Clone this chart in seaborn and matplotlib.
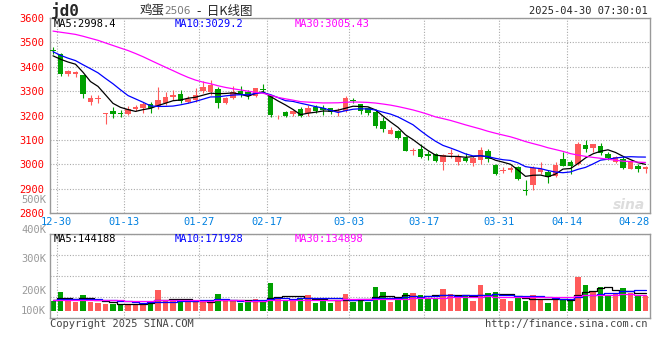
import numpy as np
import pandas as pd
import matplotlib
matplotlib.use('Agg')
import matplotlib.pyplot as plt
import seaborn as sns

# egg futures jd2506, daily bars 2024-12-27 .. 2025-04-29 (80 sessions)
opens = [3468, 3452, 3370, 3370, 3367, 3256, 3268, 3205, 3218, 3212,
         3206, 3226, 3230, 3249, 3236, 3250, 3275, 3288, 3256, 3263,
         3302, 3298, 3307, 3250, 3271, 3300, 3296, 3281, 3309, 3278,
         3196, 3215, 3206, 3225, 3209, 3236, 3232, 3230, 3214, 3220,
         3265, 3246, 3230, 3216, 3178, 3125, 3135, 3113, 3053, 3063,
         3043, 3043, 3010, 3042, 3010, 3025, 3007, 3018, 3053, 2995,
         2972, 2975, 2988, 2896, 2916, 2970, 2967, 2951, 3021, 3011,
         3001, 3078, 3066, 3073, 3042, 3008, 3021, 2981, 2992, 2981]
closes = [3464, 3370, 3383, 3380, 3290, 3273, 3271, 3210, 3205, 3208,
          3228, 3233, 3246, 3232, 3265, 3276, 3284, 3261, 3268, 3286,
          3318, 3325, 3250, 3273, 3298, 3290, 3282, 3311, 3305, 3202,
          3199, 3199, 3219, 3198, 3232, 3219, 3224, 3216, 3218, 3272,
          3260, 3219, 3209, 3155, 3145, 3140, 3108, 3056, 3056, 3030,
          3032, 3013, 3038, 3048, 3029, 3015, 3026, 3059, 3021, 2961,
          2976, 2983, 2940, 2892, 2983, 2980, 2947, 2997, 2994, 2994,
          3082, 3062, 3082, 3046, 3024, 3028, 2983, 3015, 2982, 2990]
highs = [3482, 3455, 3388, 3382, 3368, 3285, 3285, 3212, 3236, 3224,
         3240, 3243, 3257, 3254, 3317, 3298, 3303, 3306, 3280, 3313,
         3340, 3345, 3316, 3276, 3323, 3320, 3304, 3314, 3331, 3280,
         3203, 3218, 3223, 3236, 3242, 3242, 3244, 3232, 3232, 3282,
         3271, 3248, 3236, 3225, 3195, 3154, 3140, 3116, 3068, 3083,
         3056, 3046, 3042, 3063, 3043, 3045, 3032, 3070, 3063, 3002,
         2988, 2992, 2992, 2936, 2994, 3011, 2978, 3008, 3049, 3019,
         3092, 3100, 3084, 3086, 3049, 3032, 3032, 3019, 3001, 2994]
lows = [3452, 3363, 3362, 3358, 3272, 3242, 3250, 3167, 3188, 3193,
        3204, 3218, 3212, 3212, 3225, 3243, 3265, 3252, 3252, 3257,
        3292, 3285, 3230, 3246, 3266, 3277, 3269, 3277, 3293, 3192,
        3185, 3195, 3198, 3192, 3196, 3212, 3201, 3205, 3200, 3215,
        3252, 3205, 3202, 3150, 3131, 3123, 3104, 3053, 3036, 3026,
        3018, 3011, 2977, 3026, 2995, 3011, 2991, 2999, 3011, 2954,
        2964, 2967, 2937, 2872, 2893, 2960, 2924, 2947, 2991, 2960,
        2997, 3051, 3049, 3038, 3019, 3004, 2981, 2981, 2967, 2964]
volumes = [80000, 153000, 88000, 74000, 129000, 74000, 68000, 57000, 60000, 47000,
           57000, 60000, 66000, 82000, 170000, 88000, 84000, 82000, 71000, 88000,
           76000, 71000, 137000, 88000, 93000, 66000, 76000, 96000, 88000, 227000,
           107000, 80000, 93000, 107000, 129000, 66000, 93000, 66000, 93000, 137000,
           74000, 101000, 74000, 197000, 153000, 74000, 93000, 145000, 145000, 129000,
           109000, 109000, 180000, 137000, 115000, 121000, 82000, 211000, 145000, 153000,
           96000, 82000, 121000, 82000, 129000, 98000, 68000, 101000, 93000, 101000,
           279000, 211000, 156000, 197000, 134000, 148000, 186000, 148000, 125000, 121000]

# sessions before the window (not drawn), estimated from where the MA lines start
prev_closes = [3505, 3512, 3520, 3515, 3528, 3522, 3530, 3518, 3525, 3532,
               3600, 3640, 3670, 3695, 3705, 3700, 3690, 3665, 3625, 3570,
               3520, 3500, 3480, 3460, 3435, 3440, 3440, 3425, 3455]
prev_volumes = [82000, 95000, 78000, 88000, 101000, 86000, 79000, 92000, 84000, 97000,
                88000, 75000, 90000, 83000, 99000, 87000, 80000, 94000, 85000, 91000,
                78000, 96000, 89000, 84000, 92000, 98000, 90000, 102000, 95000]

date_labels = ['12-30', '01-13', '01-27', '02-17', '03-03', '03-17', '03-31', '04-14', '04-28']
date_idx = [1, 10, 20, 29, 40, 50, 60, 69, 78]
price_ticks = [2800, 2900, 3000, 3100, 3200, 3300, 3400, 3500, 3600]
ma_price_text = ['MA5:2998.4', 'MA10:3029.2', 'MA30:3005.43']
ma_vol_text = ['MA5:144188', 'MA10:171928', 'MA30:134898']
vol_labels = ['500K', '400K', '300K', '200K', '100K']

RED = '#ff5a5a'
GREEN = '#00a000'
MA_COLORS = ['black', '#0000ff', '#ff00ff']
GRID = '#aaaaaa'

df = pd.DataFrame({'open': opens, 'close': closes, 'high': highs,
                   'low': lows, 'volume': volumes})
df['x'] = np.arange(len(df))
all_c = pd.Series(prev_closes + closes, dtype=float)
all_v = pd.Series(prev_volumes + volumes, dtype=float)
n0 = len(prev_closes)
for n in (5, 10, 30):
    df[f'ma{n}'] = all_c.rolling(n).mean().iloc[n0:].to_numpy()
    df[f'vma{n}'] = all_v.rolling(n).mean().iloc[n0:].to_numpy()

sns.set_style('white')
plt.rcParams['font.family'] = ['DejaVu Sans Mono', 'Noto Sans CJK SC']

W, H = 660, 360
fig = plt.figure(figsize=(6.6, 3.6), dpi=100)
ax = fig.add_axes([50 / W, 1 - 213 / H, 600 / W, 195 / H])
axv = fig.add_axes([50 / W, 1 - 318 / H, 600 / W, 84 / H])

up = df['close'] >= df['open']
cols = np.where(up, RED, GREEN)

# candles
ax.vlines(df['x'], df['low'], df['high'], colors=cols, lw=0.8, zorder=2)
body = (df['close'] - df['open']).abs().clip(lower=4)
ax.bar(df['x'], body, bottom=np.minimum(df['open'], df['close']), width=0.7,
       color=cols, lw=0, zorder=3)
for n, c in zip((5, 10, 30), MA_COLORS):
    sns.lineplot(data=df, x='x', y=f'ma{n}', color=c, lw=0.9, ax=ax,
                 estimator=None, zorder=4)

# volume
axv.bar(df['x'], df['volume'], width=0.7, color=cols, lw=0, zorder=2)
for n, c in zip((5, 10, 30), MA_COLORS):
    sns.lineplot(data=df, x='x', y=f'vma{n}', color=c, lw=0.9, ax=axv,
                 estimator=None, drawstyle='steps-mid', zorder=4)

grid_pos = [i - 0.5 for i in date_idx]
for a in (ax, axv):
    a.set_xlim(-0.4, 79.6)
    a.set_xlabel('')
    a.set_ylabel('')
    for s in a.spines.values():
        s.set_color('#999999')
        s.set_linewidth(1)
    for p in grid_pos[:-1]:
        a.axvline(p, color=GRID, lw=0.8, ls=(0, (1, 1.5)), zorder=1)
    a.yaxis.grid(True, color=GRID, lw=0.8, ls=(0, (1, 1.5)), zorder=1)
    a.tick_params(length=0)

ax.set_ylim(2800, 3600)
ax.set_yticks(price_ticks)
ax.tick_params(axis='y', labelsize=7.5, labelcolor='red', pad=4)
ax.set_xticks(grid_pos)
ax.set_xticklabels(date_labels)
ax.tick_params(axis='x', labelsize=7.5, labelcolor='#0080e0', pad=3)

vlo, vhi = -57400, 631400
axv.set_ylim(vlo, vhi)
axv.set_yticks(np.linspace(vlo, vhi, 5))
axv.set_yticklabels([])
axv.set_xticks([])

# volume scale labels, where the reference prints them
for lab, fy in zip(vol_labels, [1.405, 1.048, 0.70, 0.32, 0.083]):
    axv.text(-4 / 600, fy, lab, transform=axv.transAxes, ha='right', va='center',
             fontsize=7.5, color='#999999', clip_on=False)

for t, c, fx in zip(ma_price_text, MA_COLORS, [4, 125, 245]):
    ax.text(fx / 600, 1 - 6 / 195, t, transform=ax.transAxes, ha='left',
            va='center', fontsize=7.5, color=c)
for t, c, fx in zip(ma_vol_text, MA_COLORS, [4, 125, 245]):
    axv.text(fx / 600, 1 - 5 / 84, t, transform=axv.transAxes, ha='left',
             va='center', fontsize=7.5, color=c)

# header
fig.text(51 / W, 1 - 11 / H, 'jd0', fontsize=11.5, fontweight='bold', va='center')
fig.text(140 / W, 1 - 11 / H, '鸡蛋', fontsize=9, va='center',
         family=['Noto Sans CJK SC'])
fig.text(164 / W, 1 - 11 / H, '2506', fontsize=7.5, va='center', color='#777777',
         family=['DejaVu Sans'])
fig.text(197 / W, 1 - 11 / H, '-  日K线图', fontsize=9, va='center',
         family=['Noto Sans CJK SC'])
fig.text(648 / W, 1 - 11 / H, '2025-04-30 07:30:01', fontsize=7.5, ha='right',
         va='center')

# footer
fig.text(50 / W, 1 - 324 / H, 'Copyright 2025 SINA.COM', fontsize=7.5,
         va='center', color='#444444')
fig.text(648 / W, 1 - 324 / H, 'http://finance.sina.com.cn', fontsize=7.5,
         ha='right', va='center', color='#444444')
fig.text(645 / W, 1 - 205 / H, 'sina', fontsize=10, ha='right', va='center',
         color='#dddddd', fontweight='bold', style='italic', family=['DejaVu Sans'])

fig.savefig('out.png', dpi=100, facecolor='white')
